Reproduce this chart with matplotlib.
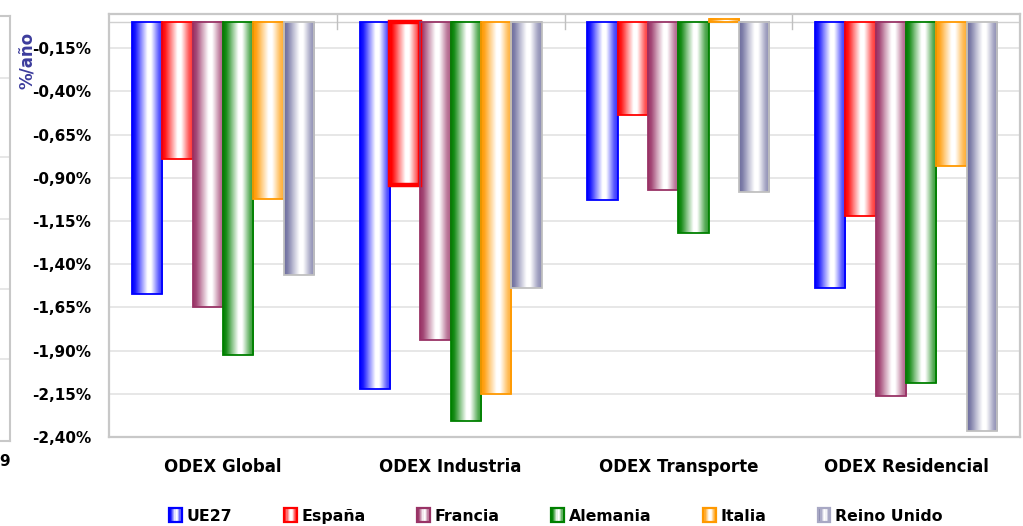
import matplotlib
matplotlib.use('Agg')
import matplotlib.pyplot as plt
import numpy as np
from matplotlib.colors import LinearSegmentedColormap, to_rgb
from matplotlib.legend_handler import HandlerBase
from matplotlib.patches import Rectangle, Patch

# ---- data ----
categories = ['ODEX Global', 'ODEX Industria', 'ODEX Transporte', 'ODEX Residencial']
series = ['UE27', 'España', 'Francia', 'Alemania', 'Italia', 'Reino Unido']
ue27 = [-1.57, -2.12, -1.03, -1.54]
espana = [-0.79, -0.94, -0.535, -1.12]
francia = [-1.65, -1.84, -0.97, -2.165]
alemania = [-1.925, -2.31, -1.218, -2.09]
italia = [-1.025, -2.15, 0.02, -0.83]
reino_unido = [-1.46, -1.54, -0.985, -2.365]
values = [ue27, espana, francia, alemania, italia, reino_unido]
yticks = [-0.15, -0.40, -0.65, -0.90, -1.15, -1.40, -1.65, -1.90, -2.15, -2.40]
ytick_labels = ['-0,15%', '-0,40%', '-0,65%', '-0,90%', '-1,15%', '-1,40%',
                '-1,65%', '-1,90%', '-2,15%', '-2,40%']

fill_colors = ['#0000FF', '#FF0000', '#993366', '#008000', '#FF9900', '#6E6E9E']
edge_colors = ['#0000FF', '#FF0000', '#993366', '#008000', '#FF9900', '#C0C0C0']

plt.rcParams['font.family'] = ['DejaVu Sans']
plt.rcParams['font.weight'] = 'bold'

W, H = 1023, 526
fig = plt.figure(figsize=(W / 100, H / 100), dpi=100)
fig.patch.set_facecolor('white')


def mkcmap(c):
    r = np.array(to_rgb(c))
    w = np.ones(3)
    return LinearSegmentedColormap.from_list(
        'g', [(0.0, r), (0.1, r * 0.9 + w * 0.1), (0.5, w), (0.62, w),
              (0.88, r * 0.65 + w * 0.35), (1.0, r * 0.8 + w * 0.2)])


cmaps = [mkcmap(c) for c in fill_colors]

# ---- remnant of neighbouring chart on the left ----
axl = fig.add_axes([-0.05, 1 - 441 / H, 0.05 + 10 / W, (441 - 16) / H])
axl.set_xlim(0, 1)
axl.set_ylim(0, 1)
axl.set_xticks([])
axl.set_yticks([0.193, 0.358, 0.523, 0.668, 0.853])
axl.tick_params(length=0, labelleft=False)
axl.grid(axis='y', color='#E3E3E3', lw=1.2)
axl.spines['left'].set_visible(False)
for s in ['right', 'top', 'bottom']:
    axl.spines[s].set_color('#C8C8C8')
    axl.spines[s].set_linewidth(1.5)
fig.text(-1 / W, 1 - 461 / H, '9', ha='left', va='center', fontsize=11,
         fontweight='bold', color='black')

# ---- main axes ----
ax = fig.add_axes([109 / W, 1 - 437 / H, (1020 - 109) / W, (437 - 14) / H])
n = len(series)
width = 0.8 / n
x = np.arange(len(categories))
ymin, ymax = -2.40, 0.048

for i, (vals, cm) in enumerate(zip(values, cmaps)):
    pos = x - 0.4 + width * (i + 0.5)
    bars = ax.bar(pos, vals, width=width, facecolor='none',
                  edgecolor=edge_colors[i], linewidth=1.3, zorder=4)
    grad = np.linspace(0, 1, 64).reshape(1, -1)
    for j, b in enumerate(bars):
        bx, by, bw, bh = b.get_x(), b.get_y(), b.get_width(), b.get_height()
        ax.imshow(grad, cmap=cm, extent=[bx, bx + bw, by, by + bh],
                  aspect='auto', interpolation='bilinear', zorder=3)
        if i == 1 and j == 1:
            b.set_linewidth(3.2)

ax.set_xlim(-0.5, len(categories) - 0.5)
ax.set_ylim(ymin, ymax)
ax.set_yticks(yticks)
ax.set_yticklabels(ytick_labels, fontsize=11, fontweight='bold')
ax.set_xticks(x)
ax.set_xticklabels(categories, fontsize=12, fontweight='bold')
ax.tick_params(axis='y', length=0, pad=13)
ax.tick_params(axis='x', length=0, pad=15)
ax.grid(axis='y', color='#E3E3E3', lw=1.2, zorder=0)
ax.set_axisbelow(True)
for s in ax.spines.values():
    s.set_color('#C8C8C8')
    s.set_linewidth(1.6)

# zero axis line with cross tick marks between categories
ax.axhline(0, color='#D0D0D0', lw=1.0, zorder=1)
for b in x[1:] - 0.5:
    ax.plot([b, b], [0.04, -0.04], color='#C0C0C0', lw=1.0, zorder=1,
            clip_on=False)

fig.text(27 / W, 1 - 60 / H, '%/año', rotation=90, ha='center', va='center',
         fontsize=12, fontweight='bold', color='#3C3C9C')


# ---- legend ----
class HandlerGrad(HandlerBase):
    def __init__(self, cmap, edge, **kw):
        super().__init__(**kw)
        self.cmap = cmap
        self.edge = edge

    def create_artists(self, legend, orig_handle, xdescent, ydescent, width,
                       height, fontsize, trans):
        arts = []
        nstrip = 10
        sw = width / nstrip
        for k in range(nstrip):
            c = self.cmap((k + 0.5) / nstrip)
            arts.append(Rectangle((-xdescent + k * sw, -ydescent), sw, height,
                                  facecolor=c, edgecolor='none',
                                  transform=trans))
        arts.append(Rectangle((-xdescent, -ydescent), width, height,
                              facecolor='none', edgecolor=self.edge, lw=1.6,
                              transform=trans))
        return arts


handles = [Patch(label=s) for s in series]
hmap = {h: HandlerGrad(cmaps[i], fill_colors[i] if i < 5 else '#A8A8C4')
        for i, h in enumerate(handles)}
fig.legend(handles=handles, labels=series, handler_map=hmap, loc='center',
           bbox_to_anchor=(556 / W, 1 - 516 / H), ncol=6, frameon=False,
           prop={'size': 11.3, 'weight': 'bold'}, handlelength=0.8,
           handleheight=1.0, handletextpad=0.3, columnspacing=3.3,
           borderpad=0, borderaxespad=0)

fig.savefig('out.png', dpi=100, facecolor='white')
